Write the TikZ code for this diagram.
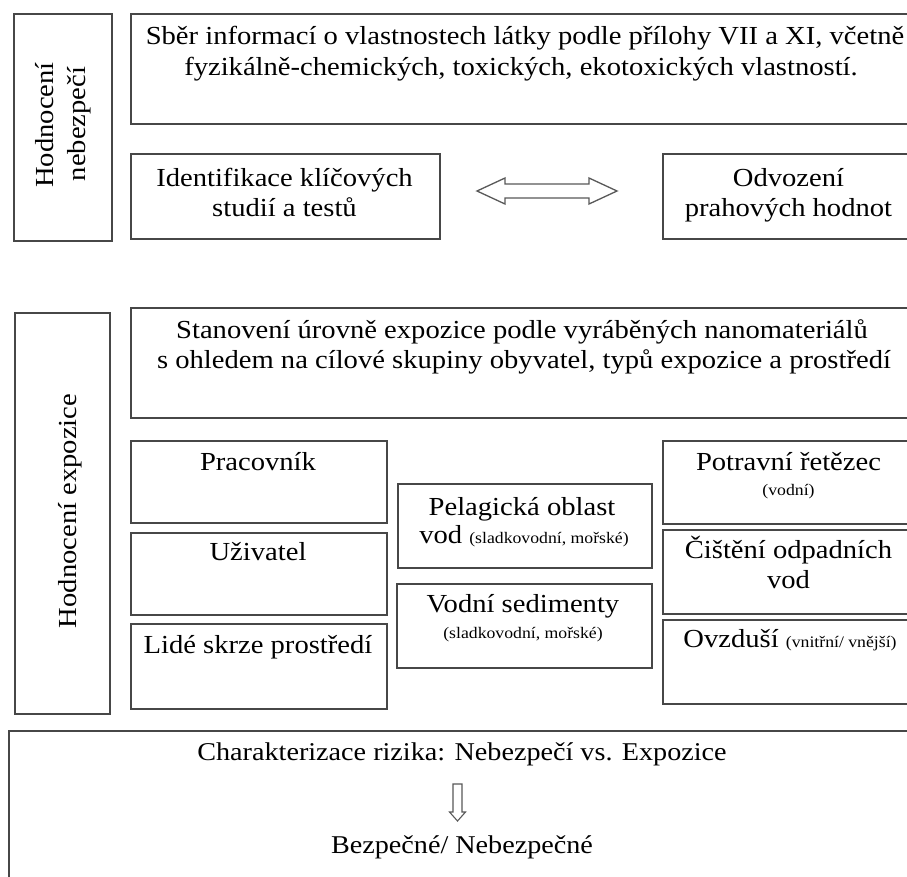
\documentclass[tikz,border=0pt]{standalone}
\usepackage{fontspec}
\setmainfont{Liberation Serif}[FakeStretch=1.1]
\usetikzlibrary{calc}
\newcommand\bigf{\fontsize{26}{30}\selectfont}
\newcommand\riskf{\fontsize{25.6}{30}\selectfont}
\newcommand\smallf{\fontsize{16.1}{19}\selectfont}
\tikzset{
  box/.style={draw=black!72, line width=1.7pt, inner sep=0pt, anchor=north west},
  txt/.style={inner sep=0pt, anchor=base, font=\bigf, text=black},
  stxt/.style={inner sep=0pt, anchor=base, font=\smallf, text=black},
  hollow/.style={draw=black!65, line width=1.3pt, fill=white, line join=miter}
}
\begin{document}
\begin{tikzpicture}[x=1pt,y=-1pt]
\clip (0,0) rectangle (907,876);
\fill[white] (0,0) rectangle (907,876);
% hazard section
\node[box, minimum width=98pt, minimum height=227pt] (hazL) at (13,13) {};
\node[box, minimum width=785pt, minimum height=110pt] (sber) at (130,13) {};
\node[box, minimum width=309pt, minimum height=85pt] (ident) at (130,153) {};
\node[box, minimum width=253pt, minimum height=85pt] (odv) at (662,153) {};
\node[txt, rotate=90] (hazT1) at (53,125) {Hodnocení};
\node[txt, rotate=90] (hazT2) at (85,124) {nebezpečí};
\node[txt] (sberT1) at (525,44) {Sběr informací o vlastnostech látky podle přílohy VII a XI, včetně};
\node[txt] (sberT2) at (521,75) {fyzikálně-chemických, toxických, ekotoxických vlastností.};
\node[txt] (identT1) at (284.5,186) {Identifikace klíčových};
\node[txt] (identT2) at (284.5,216) {studií a testů};
\node[txt] (odvT1) at (788.5,186) {Odvození};
\node[txt] (odvT2) at (788.5,216) {prahových hodnot};
% double arrow
\coordinate (dl) at (477,191);
\coordinate (dr) at (617,191);
\draw[hollow] (dl) -- ($(dl)+(28,-13)$) -- ($(dl)+(28,-7)$) -- ($(dr)+(-28,-7)$) -- ($(dr)+(-28,-13)$)
  -- (dr) -- ($(dr)+(-28,13)$) -- ($(dr)+(-28,7)$) -- ($(dl)+(28,7)$) -- ($(dl)+(28,13)$) -- cycle;
% exposure section
\node[box, minimum width=95pt, minimum height=401pt] (expL) at (14,312) {};
\node[box, minimum width=785pt, minimum height=110pt] (stan) at (130,307) {};
\node[box, minimum width=256pt, minimum height=82pt] (prac) at (130,440) {};
\node[box, minimum width=256pt, minimum height=82pt] (uziv) at (130,532) {};
\node[box, minimum width=256pt, minimum height=85pt] (lide) at (130,623) {};
\node[box, minimum width=254pt, minimum height=84pt] (pel) at (397,483) {};
\node[box, minimum width=255pt, minimum height=84pt] (sed) at (396,583) {};
\node[box, minimum width=253pt, minimum height=83pt] (pot) at (662,440) {};
\node[box, minimum width=253pt, minimum height=84pt] (cist) at (662,529) {};
\node[box, minimum width=253pt, minimum height=84pt] (ovz) at (662,619) {};
\node[txt, rotate=90] (expT) at (76,511) {Hodnocení expozice};
\node[txt] (stanT1) at (522,338) {Stanovení úrovně expozice podle vyráběných nanomateriálů};
\node[txt] (stanT2) at (524,368) {s ohledem na cílové skupiny obyvatel, typů expozice a prostředí};
\node[txt] (pracT) at (258,470) {Pracovník};
\node[txt] (uzivT) at (258,560) {Uživatel};
\node[txt] (lideT) at (258,653) {Lidé skrze prostředí};
\node[txt] (pelT1) at (522,515) {Pelagická oblast};
\node[txt] (pelT2) at (524,543) {vod {\smallf (sladkovodní, mořské)}};
\node[txt] (sedT1) at (523,612) {Vodní sedimenty};
\node[stxt] (sedT2) at (523,638) {(sladkovodní, mořské)};
\node[txt] (potT1) at (788.5,470) {Potravní řetězec};
\node[stxt] (potT2) at (788.5,495) {(vodní)};
\node[txt] (cistT1) at (788.5,558) {Čištění odpadních};
\node[txt] (cistT2) at (788.5,588) {vod};
\node[txt] (ovzT) at (790,647) {Ovzduší {\smallf (vnitřní/ vnější)}};
% risk section
\node[box, minimum width=907pt, minimum height=160pt] (risk) at (8,730) {};
\node[txt, font=\riskf] (riskT1) at (462,760) {Charakterizace rizika: Nebezpečí vs. Expozice};
\node[txt, font=\riskf] (riskT2) at (462,853) {Bezpečné/ Nebezpečné};
\coordinate (dtop) at (457.5,784);
\coordinate (dtip) at (457.5,821);
\draw[hollow, line width=1.1pt] ($(dtop)+(-4.5,0)$) -- ($(dtop)+(4.5,0)$) -- ($(dtip)+(4.5,-9)$) -- ($(dtip)+(8,-9)$)
  -- (dtip) -- ($(dtip)+(-8,-9)$) -- ($(dtip)+(-4.5,-9)$) -- cycle;
\end{tikzpicture}
\end{document}
